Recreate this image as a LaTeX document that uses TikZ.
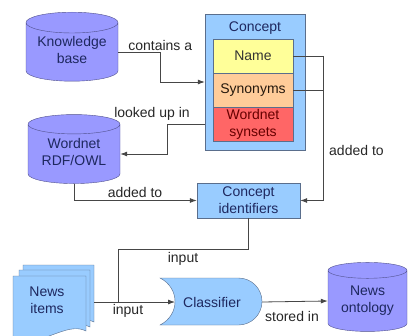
\documentclass[tikz,border=0pt]{standalone}
\usepackage{fontspec}
\setmainfont{Liberation Sans}
\usetikzlibrary{arrows.meta,shapes.geometric}

\definecolor{dbblue}{RGB}{153,153,255}
\definecolor{dbedge}{RGB}{80,80,140}
\definecolor{lightblue}{RGB}{153,204,255}
\definecolor{boxedge}{RGB}{90,110,140}
\definecolor{nameyellow}{RGB}{255,255,153}
\definecolor{synorange}{RGB}{255,204,153}
\definecolor{synsetred}{RGB}{255,102,102}
\definecolor{navytext}{RGB}{30,40,95}
\definecolor{linegray}{RGB}{70,70,70}

% Text im Zylinder etwas tiefer setzen
\newcommand{\dbtext}[2][5pt]{\raisebox{-#1}{\begin{tabular}{@{}c@{}}#2\end{tabular}}}

\begin{document}
\begin{tikzpicture}[
    x=1pt, y=-1pt,
    font=\fontsize{14}{17}\selectfont,
    db/.style={draw=dbedge, fill=dbblue, cylinder, shape border rotate=90, aspect=0.3, minimum width=92pt, minimum height=69pt, align=center, text=navytext, inner sep=0pt},
    box/.style={draw=boxedge, fill=lightblue, rectangle, align=center, text=navytext, inner sep=0pt},
    field/.style={draw=boxedge, rectangle, align=center, minimum width=80pt, minimum height=34pt, inner sep=0pt},
    doc/.style={draw=boxedge, fill=lightblue},
    flow/.style={draw=linegray, line width=0.8pt, -{Latex[length=7pt,width=5pt]}},
    plain/.style={draw=linegray, line width=0.8pt},
    edge_label/.style={text=black!85, inner sep=1pt}
]
\useasboundingbox (0,0) rectangle (411,336);

% Datenbanken
\node[db] (kb) at (72,52) {\dbtext[6pt]{Knowledge\\base}};
\node[db] (wordnet) at (74,154) {\dbtext[4pt]{Wordnet\\RDF/OWL}};
\node[db, minimum width=79pt] (onto) at (367.5,301) {\dbtext[6pt]{News\\ontology}};

% Konzept mit Feldern
\node[box, minimum width=100pt, minimum height=136pt] (concept) at (255,82) {};
\node[text=navytext] (concepttitle) at (255,28) {Concept};
\node[field, fill=nameyellow, text=black!80] (name) at (253,56) {Name};
\node[field, fill=synorange, text=black!80!brown] (syn) at (253,90) {Synonyms};
\node[field, fill=synsetred, text=red!40!black] (synset) at (253,124) {Wordnet\\synsets};

\node[box, minimum width=103pt, minimum height=35pt] (ident) at (248.5,200.5) {Concept\\identifiers};

% Nachrichten
\draw[doc] (23,265) -- (94,265) -- (94,322) .. controls (75,312) and (50,338) .. (23,332) -- cycle;
\draw[doc] (19,270) -- (90,270) -- (90,327) .. controls (71,317) and (46,343) .. (19,337) -- cycle;
\draw[doc] (13,276) -- (86,276) -- (86,331) .. controls (67,321) and (42,347) .. (13,341) -- cycle;
\node[text=navytext, align=center] (news) at (47,300) {News\\items};
\coordinate (newsout) at (94,302);

% Klassifikator
\draw[doc] (160,278) -- (238.5,278) arc[start angle=90, end angle=-90, radius=23.5pt] -- (160,325) .. controls (180,315) and (180,288) .. (160,278) -- cycle;
\node[text=navytext] (classifier) at (212,302) {Classifier};
\coordinate (clsin) at (175,302);
\coordinate (clsout) at (262,302);

% Verbindungen
\draw[flow] (kb.east) -- ++(42,0) node[edge_label, above] {contains a} |- (concept.west);
\draw[flow] (concept.west |- synset) -- ++(-37,0) |- (wordnet.east);
\node[edge_label] (lbl_lookup) at (152,114) {looked up in};
\draw[flow] (wordnet.south) |- (ident.west);
\node[edge_label] (lbl_added) at (135,192) {added to};

\draw[plain] (name.east) -- ++(30,0) coordinate (bus);
\draw[plain] (syn.east) -- (syn.east -| bus);
\draw[flow] (bus) |- (ident.east);
\node[edge_label, anchor=west] (lbl_added2) at (328,150) {added to};

\coordinate (join) at (118,302);
\draw[plain] (ident.south) -- ++(0,31) -| (join);
\node[edge_label] (lbl_input) at (183,259) {input};
\draw[flow] (newsout) -- (clsin);
\node[edge_label] (lbl_input2) at (128,311) {input};
\draw[flow] (clsout) -- (onto.west);
\node[edge_label] (lbl_stored) at (292,316) {stored in};

\end{tikzpicture}
\end{document}
